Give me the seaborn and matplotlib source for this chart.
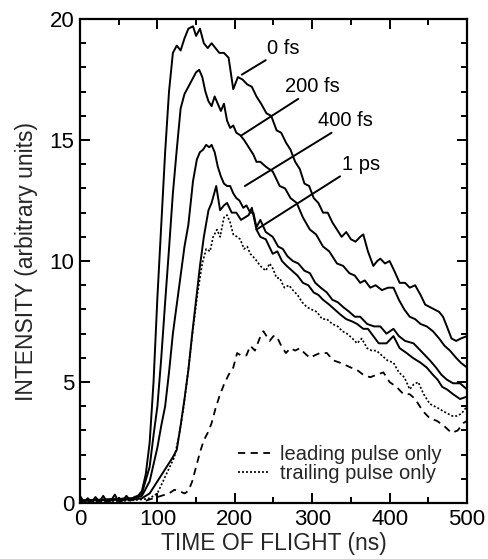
import numpy as np
import pandas as pd
import matplotlib
matplotlib.use("Agg")
import matplotlib.pyplot as plt
from matplotlib.ticker import MultipleLocator
import seaborn as sns

# Time-of-flight spectra (ns, arbitrary intensity) for each pulse delay
t_0fs = [0, 5, 10, 15, 20, 25, 30, 35, 40, 45, 50, 55, 60, 65, 70, 75, 80, 85, 90, 95,
         100, 105, 110, 115, 120, 125, 130, 135, 140, 146, 150, 155, 160, 165, 170, 175,
         180, 186, 192, 198, 204, 210, 216, 222, 228, 234, 241, 247, 254, 260, 266, 272,
         278, 284, 290, 296, 302, 308, 314, 320, 326, 332, 338, 344, 350, 356, 362, 366,
         372, 379, 384, 388, 394, 400, 406, 413, 420, 426, 433, 440, 446, 452, 458, 464,
         469, 474, 480, 486, 492, 500]
i_0fs = [0.3, 0.05, 0.2, 0.05, 0.25, 0.05, 0.3, 0.05, 0.1, 0.35, 0.05, 0.1, 0.3, 0.1, 0.25,
         0.3, 0.5, 1.2, 2.5, 5.0, 8.5, 11.5, 14.5, 17.0, 18.6, 18.9, 18.7, 19.2, 19.6, 19.7,
         19.3, 19.6, 19.0, 18.8, 19.0, 18.8, 18.6, 18.6, 18.4, 17.1, 17.6, 17.5, 17.3, 17.2,
         16.8, 16.5, 16.1, 16.0, 15.4, 15.3, 14.9, 14.6, 14.1, 13.8, 13.2, 13.1, 12.6, 12.4,
         12.0, 12.0, 11.6, 11.3, 11.0, 11.2, 10.9, 10.8, 11.0, 11.1, 10.4, 9.8, 10.0, 10.1,
         9.9, 10.0, 9.6, 9.1, 9.1, 8.9, 9.0, 8.6, 8.2, 8.1, 8.0, 7.9, 7.7, 7.3, 6.8, 6.7,
         6.8, 6.9]

t_200fs = [0, 70, 80, 90, 95, 100, 105, 110, 115, 120, 125, 130, 135, 140, 145, 150, 154,
           158, 162, 166, 170, 174, 178, 182, 186, 190, 194, 198, 202, 207, 212, 218, 224,
           228, 233, 240, 249, 258, 265, 272, 280, 288, 297, 305, 314, 322, 332, 340, 348,
           355, 362, 368, 375, 382, 390, 398, 405, 412, 419, 426, 433, 440, 448, 456, 464,
           471, 478, 486, 492, 500]
i_200fs = [0.1, 0.2, 0.4, 1.5, 2.8, 4.0, 6.0, 8.3, 10.5, 12.8, 14.6, 16.3, 16.9, 17.2, 17.5,
           17.8, 17.9, 17.6, 17.0, 16.6, 16.4, 16.8, 16.5, 16.2, 16.5, 15.8, 15.5, 15.6, 15.3,
           15.2, 15.0, 14.7, 14.4, 14.1, 14.1, 13.9, 13.7, 13.1, 13.0, 12.6, 12.4, 11.8, 11.3,
           11.1, 10.6, 10.4, 9.9, 9.8, 9.5, 9.4, 9.1, 9.2, 8.9, 9.0, 8.8, 8.9, 8.9, 8.4, 8.0,
           7.7, 7.6, 7.4, 7.3, 7.1, 6.8, 6.5, 6.3, 6.0, 5.8, 5.6]

t_400fs = [0, 70, 80, 90, 95, 100, 105, 110, 115, 120, 125, 130, 135, 140, 146, 151, 155,
           159, 163, 167, 170, 174, 178, 182, 186, 190, 194, 198, 202, 206, 211, 215, 220,
           224, 228, 233, 240, 249, 256, 262, 268, 275, 282, 290, 297, 304, 311, 319, 326,
           333, 340, 348, 355, 362, 371, 380, 388, 396, 405, 412, 420, 431, 440, 446, 452,
           460, 467, 474, 482, 491, 500]
i_400fs = [0.1, 0.2, 0.3, 0.9, 1.6, 2.3, 3.2, 4.0, 5.4, 7.0, 8.2, 9.4, 10.6, 11.5, 13.3,
           14.2, 14.5, 14.6, 14.8, 14.7, 14.8, 14.5, 13.9, 13.5, 13.2, 13.1, 13.1, 12.8, 12.6,
           12.5, 12.2, 12.3, 12.0, 12.0, 11.4, 11.7, 11.2, 11.0, 10.6, 10.5, 10.2, 10.0, 9.9,
           9.6, 9.5, 9.1, 8.9, 8.7, 8.4, 8.3, 8.1, 7.9, 7.7, 7.7, 7.4, 7.3, 7.3, 7.0, 7.2, 6.9,
           6.7, 6.6, 6.3, 6.1, 5.9, 5.6, 5.3, 5.1, 4.95, 4.95, 4.7]

t_1ps = [0, 70, 80, 90, 100, 110, 120, 125, 130, 135, 140, 145, 150, 155, 160, 166, 170,
         176, 181, 186, 190, 196, 202, 208, 213, 218, 222, 228, 233, 240, 249, 255, 261, 267,
         274, 281, 288, 295, 302, 308, 314, 322, 329, 336, 344, 352, 358, 366, 372, 379, 386,
         396, 405, 413, 422, 430, 440, 448, 456, 462, 468, 474, 482, 491, 500]
i_1ps = [0.1, 0.15, 0.2, 0.4, 0.9, 1.4, 1.9, 2.2, 3.2, 4.3, 5.5, 7.0, 8.4, 9.8, 11.0, 12.1,
         12.4, 13.1, 12.1, 12.3, 12.4, 12.0, 12.0, 11.7, 11.8, 11.9, 12.2, 11.3, 11.0, 10.9,
         10.3, 10.4, 10.0, 9.8, 9.6, 9.4, 9.1, 9.0, 8.7, 8.6, 8.4, 8.2, 8.0, 7.8, 7.6, 7.5,
         7.4, 7.2, 7.2, 6.9, 6.6, 6.6, 6.9, 6.4, 6.2, 6.0, 5.8, 5.6, 5.3, 5.1, 4.8, 4.7, 4.5,
         4.3, 4.4]

t_trailing = [0, 60, 80, 90, 100, 108, 116, 122, 128, 134, 140, 146, 152, 158, 163, 168,
              172, 177, 181, 186, 190, 194, 198, 203, 207, 212, 216, 220, 226, 233, 240, 245,
              249, 254, 258, 264, 270, 275, 281, 287, 293, 299, 306, 313, 319, 326, 333, 339,
              345, 352, 358, 364, 371, 377, 383, 390, 397, 405, 412, 419, 426, 431, 437, 444,
              452, 458, 464, 469, 475, 481, 487, 493, 500]
i_trailing = [0.05, 0.1, 0.15, 0.2, 0.4, 0.95, 1.5, 1.9, 2.8, 4.0, 5.5, 7.2, 8.7, 9.9, 10.5,
              10.4, 11.0, 11.3, 11.0, 11.8, 11.9, 11.6, 11.1, 11.0, 10.9, 10.5, 10.6, 10.3,
              10.1, 9.8, 9.6, 9.9, 9.7, 9.3, 9.3, 8.9, 9.0, 8.8, 8.6, 8.3, 8.1, 8.0, 7.9, 7.6,
              7.6, 7.4, 7.3, 7.1, 7.0, 6.8, 6.6, 6.8, 6.4, 6.3, 6.3, 6.1, 5.9, 5.8, 5.4, 5.2,
              4.7, 4.9, 5.0, 4.5, 4.1, 4.0, 3.9, 3.8, 3.7, 3.6, 3.6, 3.7, 4.0]

t_leading = [85, 95, 105, 115, 122, 128, 135, 140, 145, 150, 155, 160, 165, 170, 175, 180,
             186, 192, 198, 203, 208, 215, 220, 226, 232, 237, 241, 245, 250, 254, 260, 266,
             272, 278, 284, 290, 297, 303, 310, 319, 327, 336, 343, 350, 358, 366, 375, 383,
             392, 400, 409, 418, 426, 433, 443, 452, 461, 470, 480, 488, 495, 500]
i_leading = [0.1, 0.2, 0.3, 0.4, 0.55, 0.5, 0.4, 0.5, 0.9, 1.5, 2.1, 2.6, 2.9, 3.3, 3.9, 4.4,
             4.9, 5.3, 5.6, 6.2, 6.1, 6.1, 6.5, 6.3, 6.8, 7.1, 6.9, 6.7, 6.9, 6.9, 6.5, 6.2,
             6.4, 6.3, 6.4, 6.2, 6.0, 6.1, 6.2, 6.2, 5.9, 5.8, 5.7, 5.6, 5.5, 5.3, 5.2, 5.3,
             5.4, 5.0, 4.8, 4.5, 4.5, 4.3, 3.8, 3.5, 3.4, 3.2, 2.9, 3.0, 3.3, 3.4]

delay_labels = ["0 fs", "200 fs", "400 fs", "1 ps"]
legend_labels = ["leading pulse only", "trailing pulse only"]

# Label leader lines: (curve point) -> (text end), and text anchor positions
leader_start = [(209, 17.7), (209, 15.2), (213, 13.1), (228, 11.3)]
leader_end = [(240, 18.3), (282, 16.7), (325, 15.3), (336, 13.5)]
label_pos = [(242, 18.8), (265, 17.2), (308, 15.8), (338, 14.0)]

sns.set_theme(style="ticks")
plt.rcParams["font.family"] = ["Liberation Sans", "DejaVu Sans"]

fig = plt.figure(figsize=(4.89, 5.59), dpi=100)
ax = fig.add_axes([0.1636, 0.100, 0.955 - 0.1636, 0.966 - 0.100])

solid_series = [(t_0fs, i_0fs), (t_200fs, i_200fs), (t_400fs, i_400fs), (t_1ps, i_1ps)]
for (tt, ii), name in zip(solid_series, delay_labels):
    df = pd.DataFrame({"t": tt, "I": ii})
    sns.lineplot(data=df, x="t", y="I", ax=ax, color="black", lw=1.4,
                 estimator=None, sort=False, label=None)

df_lead = pd.DataFrame({"t": t_leading, "I": i_leading})
sns.lineplot(data=df_lead, x="t", y="I", ax=ax, color="black", lw=1.3,
             estimator=None, sort=False, label=legend_labels[0])
ax.lines[-1].set_dashes([4, 3])

df_trail = pd.DataFrame({"t": t_trailing, "I": i_trailing})
sns.lineplot(data=df_trail, x="t", y="I", ax=ax, color="black", lw=1.2,
             estimator=None, sort=False, label=legend_labels[1])
ax.lines[-1].set_dashes([1.2, 1.2])

for (x0, y0), (x1, y1), (xt, yt), lab in zip(leader_start, leader_end, label_pos, delay_labels):
    ax.annotate("", xy=(x0, y0), xytext=(x1, y1),
                arrowprops=dict(arrowstyle="-", color="black", lw=1.4, shrinkA=0, shrinkB=0))
    ax.text(xt, yt, lab, fontsize=14.5, ha="left", va="center", color="black")

ax.set_xlim(0, 500)
ax.set_ylim(0, 20)
ax.xaxis.set_major_locator(MultipleLocator(100))
ax.xaxis.set_minor_locator(MultipleLocator(50))
ax.yaxis.set_major_locator(MultipleLocator(5))
ax.yaxis.set_minor_locator(MultipleLocator(1))
ax.tick_params(which="both", direction="in", top=True, right=True, width=1.4,
               colors="black", labelsize=16)
ax.tick_params(which="major", length=7, pad=4)
ax.tick_params(which="minor", length=4.5)
for sp in ax.spines.values():
    sp.set_linewidth(1.6)
    sp.set_color("black")

ax.set_xlabel("TIME OF FLIGHT (ns)", fontsize=16.5, labelpad=2)
ax.set_ylabel("INTENSITY (arbitrary units)", fontsize=16.5, labelpad=8)

leg = ax.legend(loc="lower right", bbox_to_anchor=(0.956, 0.025), frameon=False,
                fontsize=14.5, handlelength=1.6, handletextpad=0.5,
                labelspacing=0.0, borderaxespad=0.0)

fig.savefig("out.png", dpi=100, facecolor="white")
